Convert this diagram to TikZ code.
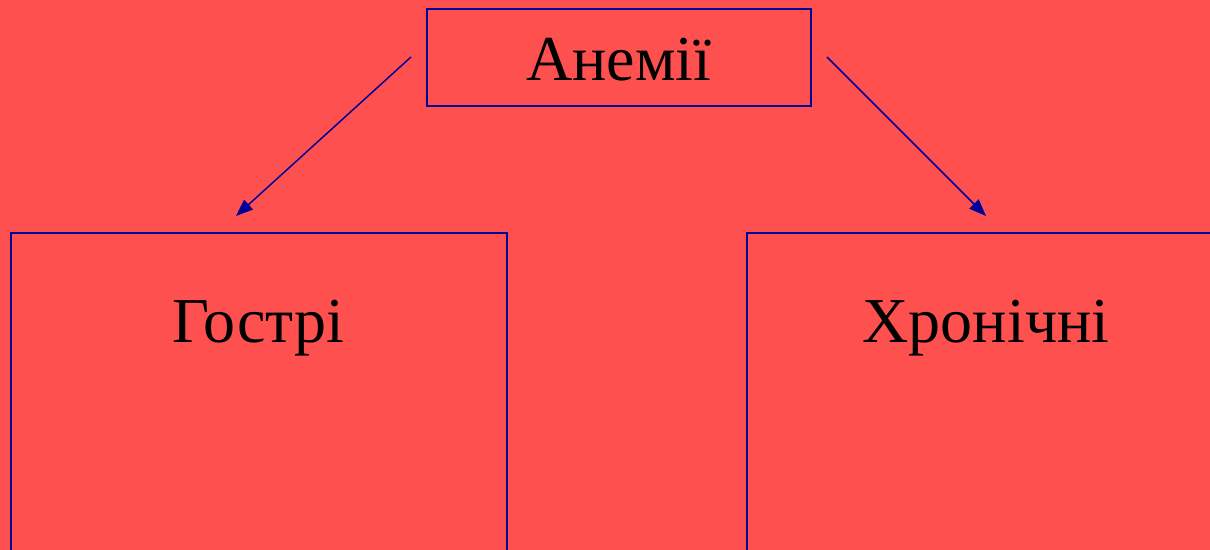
\documentclass[tikz,border=0pt]{standalone}
\usepackage{fontspec}
\setmainfont{Liberation Serif}
\usetikzlibrary{arrows.meta}
\definecolor{bgred}{HTML}{FF5050}
\definecolor{navy}{HTML}{000099}
\tikzset{
  frame/.style={draw=navy, line width=1.6pt, fill=bgred, rectangle, inner sep=0pt},
  title/.style={font=\fontsize{64}{70}\selectfont, text=black, inner sep=0pt, anchor=base},
  link/.style={draw=navy, line width=1.5pt, -{Triangle[length=17pt, width=13pt]}}
}
\begin{document}
\begin{tikzpicture}[x=1pt, y=-1pt]
  \useasboundingbox (0,0) rectangle (1210,549);
  % background, slightly oversized so no edge is left unpainted
  \fill[bgred] (-10,-10) rectangle (1220,560);
  \clip (-2,-2) rectangle (1212,551);
  % top box
  \node[frame, minimum width=384pt, minimum height=97pt] (root) at (619,57.5) {};
  \node[title] (rootlbl) at (619,80) {Анемії};
  % lower boxes (they run past the page edge)
  \node[frame, minimum width=496pt, minimum height=400pt] (acute) at (259,433) {};
  \node[title] (acutelbl) at (258,342) {Гострі};
  \node[frame, minimum width=500pt, minimum height=400pt] (chronic) at (997,433) {};
  \node[title] (chroniclbl) at (986,342) {Хронічні};
  % arrows from the top box towards the two groups
  \coordinate (ls) at (411,57);
  \coordinate (le) at (236,216);
  \coordinate (rs) at (827,57);
  \coordinate (re) at (986,216);
  \draw[link] (ls) -- (le);
  \draw[link] (rs) -- (re);
\end{tikzpicture}
\end{document}
